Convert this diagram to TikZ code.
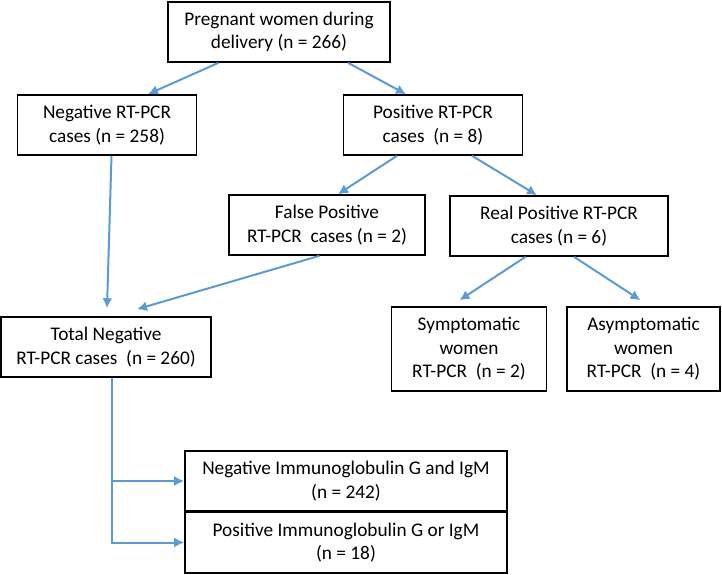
\documentclass[tikz,border=0pt]{standalone}
\usepackage{fontspec}
\setmainfont{Carlito}
\usetikzlibrary{arrows.meta}
\definecolor{flowblue}{RGB}{91,155,213}

\begin{document}
\begin{tikzpicture}[x=1pt,y=-1pt,>={Latex[length=10pt,width=10pt]},
  box/.style={draw,line width=1.6pt,inner sep=0pt,align=center,minimum height=60pt,
    font=\fontsize{19.3}{23.5}\selectfont},
  link/.style={->,flowblue,line width=2pt}]
\useasboundingbox (0,0) rectangle (722,574);

\node[box,minimum width=222pt](preg) at (279,32) {Pregnant women during\\delivery (n = 266)};
\node[box,minimum width=179pt](neg) at (107,125) {Negative RT-PCR\\cases (n = 258)};
\node[box,minimum width=179pt](pos) at (433,125) {Positive RT-PCR\\cases~ (n = 8)};
\node[box,minimum width=196pt](falsepos) at (327,225) {False Positive\\RT-PCR~ cases (n = 2)};
\node[box,minimum width=218pt](realpos) at (559,226) {Real Positive RT-PCR\\cases (n = 6)};
\node[box,minimum width=210pt](totneg) at (106,347) {Total Negative\\RT-PCR cases~ (n = 260)};
\node[box,minimum width=155pt,minimum height=84pt](sympt) at (469,349) {Symptomatic\\women\\RT-PCR~ (n = 2)};
\node[box,minimum width=153pt,minimum height=84pt](asympt) at (643.5,349) {Asymptomatic\\women\\RT-PCR~ (n = 4)};
\node[box,minimum width=322pt](negig) at (346,481) {Negative Immunoglobulin G and IgM\\(n = 242)};
\node[box,minimum width=322pt,minimum height=61pt](posig) at (346,542.5) {Positive Immunoglobulin G or IgM\\(n = 18)};

\draw[link] ([xshift=-60.5pt]preg.south) -- ([xshift=41pt]neg.north);
\draw[link] ([xshift=69pt]preg.south) -- ([xshift=-27pt]pos.north);
\draw[link] ([xshift=4.5pt]neg.south) -- ([xshift=1pt,yshift=8pt]totneg.north);
\draw[link] ([xshift=-7.5pt]falsepos.south) -- ([xshift=31pt,yshift=7pt]totneg.north);
\draw[link] ([xshift=-36pt]pos.south) -- ([xshift=11pt]falsepos.north);
\draw[link] ([xshift=39pt]pos.south) -- ([xshift=-22pt]realpos.north);
\draw[link] ([xshift=-33.4pt]realpos.south) -- ([xshift=-9.5pt,yshift=6pt]sympt.north);
\draw[link] ([xshift=15pt]realpos.south) -- ([xshift=-3pt,yshift=6pt]asympt.north);
\draw[link] ([xshift=6pt]totneg.south) |- (posig.west);
\draw[link] ([xshift=6pt]totneg.south |- negig.west) -- (negig.west);
\end{tikzpicture}
\end{document}
